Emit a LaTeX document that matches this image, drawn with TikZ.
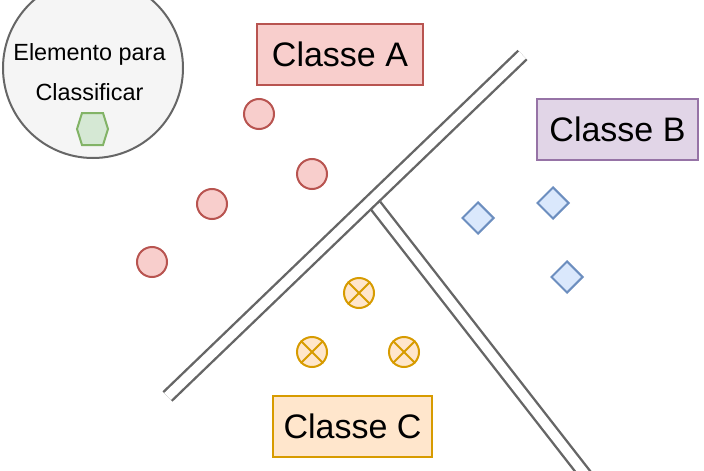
\documentclass[tikz,border=0pt]{standalone}
\usepackage{fontspec}
\setmainfont{Liberation Sans}
\usetikzlibrary{shapes.geometric}
\definecolor{redfill}{HTML}{F8CECC}
\definecolor{redline}{HTML}{B85450}
\definecolor{purfill}{HTML}{E1D5E7}
\definecolor{purline}{HTML}{9673A6}
\definecolor{orfill}{HTML}{FFE6CC}
\definecolor{orline}{HTML}{D79B00}
\definecolor{bluefill}{HTML}{DAE8FC}
\definecolor{blueline}{HTML}{6C8EBF}
\definecolor{grnfill}{HTML}{D5E8D4}
\definecolor{grnline}{HTML}{82B366}
\definecolor{greyline}{HTML}{666666}
\definecolor{greyfill}{HTML}{F5F5F5}
\tikzset{
  classbox/.style={draw, line width=2pt, minimum height=61pt, inner sep=0pt,
    font=\fontsize{34}{40}\selectfont},
  redpt/.style={circle, draw=redline, fill=redfill, line width=2pt, minimum size=30pt, inner sep=0pt},
  orpt/.style={circle, draw=orline, fill=orfill, line width=2pt, minimum size=30pt, inner sep=0pt},
  bluept/.style={diamond, draw=blueline, fill=bluefill, line width=2pt, minimum width=32pt, minimum height=32pt, inner sep=0pt},
  sep/.style={draw=greyline, line width=2.4pt, double=white, double distance=9.6pt},
  lbl/.style={font=\fontsize{23.4}{28}\selectfont, inner sep=0pt, anchor=base}
}
\begin{document}
\begin{tikzpicture}[x=1pt,y=-1pt]
\useasboundingbox (0,0) rectangle (704,471);
% element to classify
\node[circle, draw=greyline, fill=greyfill, line width=2pt, minimum size=180pt, inner sep=0pt] (elem) at (93,68) {};
\node[lbl] (t1) at (89.5,60) {Elemento para};
\node[lbl] (t2) at (89.5,100) {Classificar};
\coordinate (hex) at (92.5,129);
\draw[draw=grnline, fill=grnfill, line width=2pt]
  ([xshift=-15.5pt]hex) -- ([xshift=-10.5pt,yshift=16pt]hex) -- ([xshift=10.5pt,yshift=16pt]hex)
  -- ([xshift=15.5pt]hex) -- ([xshift=10.5pt,yshift=-16pt]hex) -- ([xshift=-10.5pt,yshift=-16pt]hex) -- cycle;
% separators
\coordinate (b1) at (375.5,205.5);
\coordinate (b2) at (591,482);
\coordinate (m1) at (167.5,396.5);
\coordinate (m2) at (522.5,55);
\draw[sep] (b1) -- (b2);
\draw[sep] (m1) -- (m2);
% class labels
\node[classbox, fill=redfill, draw=redline, minimum width=166pt] (ca) at (340,54.5) {Classe A};
\node[classbox, fill=purfill, draw=purline, minimum width=161pt] (cb) at (617.5,129) {Classe B};
\node[classbox, fill=orfill, draw=orline, minimum width=159pt] (cc) at (352.5,426.5) {Classe C};
% class A points
\node[redpt] (a1) at (259,114) {};
\node[redpt] (a2) at (312,174) {};
\node[redpt] (a3) at (212,204) {};
\node[redpt] (a4) at (152,262) {};
% class B points
\node[bluept] (p1) at (478,218) {};
\node[bluept] (p2) at (553,203) {};
\node[bluept] (p3) at (567,277) {};
% class C points
\foreach \n/\x/\y in {c1/359/293, c2/312/352, c3/404/352}{
  \node[orpt] (\n) at (\x,\y) {};
  \draw[orline, line width=2pt] (\n.north east) -- (\n.south west) (\n.north west) -- (\n.south east);
}
\end{tikzpicture}
\end{document}
